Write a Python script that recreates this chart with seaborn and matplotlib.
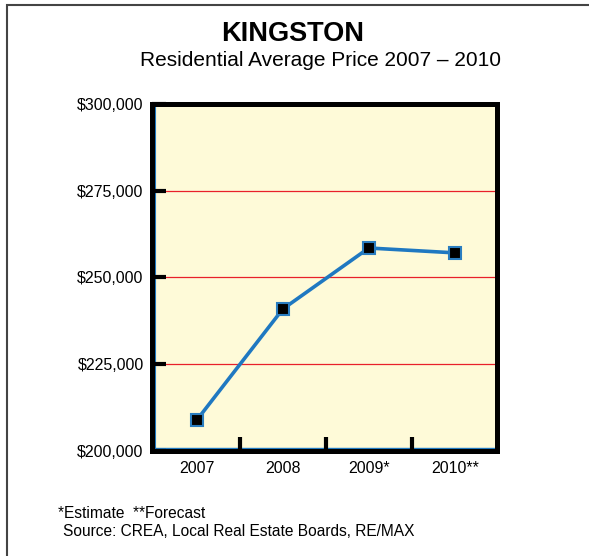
import matplotlib
matplotlib.use("Agg")
import matplotlib.pyplot as plt
import matplotlib.patches as mpatches
from matplotlib.lines import Line2D
from matplotlib.ticker import FixedLocator, FuncFormatter
import seaborn as sns
import pandas as pd

years = ["2007", "2008", "2009*", "2010**"]
prices = [208900, 240900, 258500, 257100]
yticks = [200000, 225000, 250000, 275000, 300000]

sns.set_style("white")
plt.rcParams["font.family"] = ["Liberation Sans", "DejaVu Sans"]
plt.rcParams["text.color"] = "black"
plt.rcParams["xtick.color"] = "black"
plt.rcParams["ytick.color"] = "black"

df = pd.DataFrame({"year": years, "price": prices})

fig = plt.figure(figsize=(5.89, 5.56), dpi=100)
ax = fig.add_axes([152/589, 1-451/556, 345/589, 347/556])
ax.set_facecolor("#FEFAD8")

for v in yticks[1:-1]:
    ax.axhline(v, color="#E8202A", lw=0.9, zorder=1)

sns.lineplot(data=df, x="year", y="price", ax=ax, color="#1F78C1", lw=2.6,
             marker="s", markersize=9, markerfacecolor="black",
             markeredgecolor="#2A7DC0", markeredgewidth=1.5, zorder=3)

xl = (-0.52, 3.49)
ax.set_xlim(*xl)
ax.set_ylim(200000, 300000)
ax.set_yticks(yticks)
ax.yaxis.set_major_formatter(FuncFormatter(lambda v, p: f"${v:,.0f}"))
ax.xaxis.set_minor_locator(FixedLocator([0.5, 1.5, 2.5]))
ax.tick_params(axis="x", which="major", bottom=False, length=0, labelsize=11.5, pad=7,
               labelcolor="black")
ax.tick_params(axis="x", which="minor", bottom=True, direction="in", length=10, width=3,
               color="black")
ax.tick_params(axis="y", which="major", left=True, direction="in", length=10, width=3,
               color="black", labelsize=11.5, pad=6, labelcolor="black")
ax.set_axisbelow(False)
ax.set_xlabel("")
ax.set_ylabel("")
for s in ax.spines.values():
    s.set_visible(True)
    s.set_color("black")
    s.set_linewidth(3.6)
    s.set_zorder(5)

# thin blue inner edge along left and bottom spines
ax.add_line(Line2D([0.0085, 0.0085], [0, 1], transform=ax.transAxes, color="#1F78C1",
                   lw=0.8, zorder=2))
ax.add_line(Line2D([0, 1], [0.0085, 0.0085], transform=ax.transAxes, color="#1F78C1",
                   lw=1.0, zorder=2))

fig.text(293/589, 1-34/556, "KINGSTON", ha="center", va="center", fontsize=19.5, fontweight="bold")
fig.text(320/589, 1-61/556, "Residential Average Price 2007 \u2013 2010", ha="center", va="center", fontsize=15)
fig.text(58/589, 1-513/556, "*Estimate  **Forecast", ha="left", va="center", fontsize=11.2)
fig.text(63/589, 1-531/556, "Source: CREA, Local Real Estate Boards, RE/MAX", ha="left", va="center", fontsize=11.2)

fig.patches.append(mpatches.Rectangle((7/589, -0.1), 1.2, 1 - 5/556 + 0.1, transform=fig.transFigure,
                                      fill=False, edgecolor="#444444", lw=1.5))

fig.savefig("out.png", dpi=100)
